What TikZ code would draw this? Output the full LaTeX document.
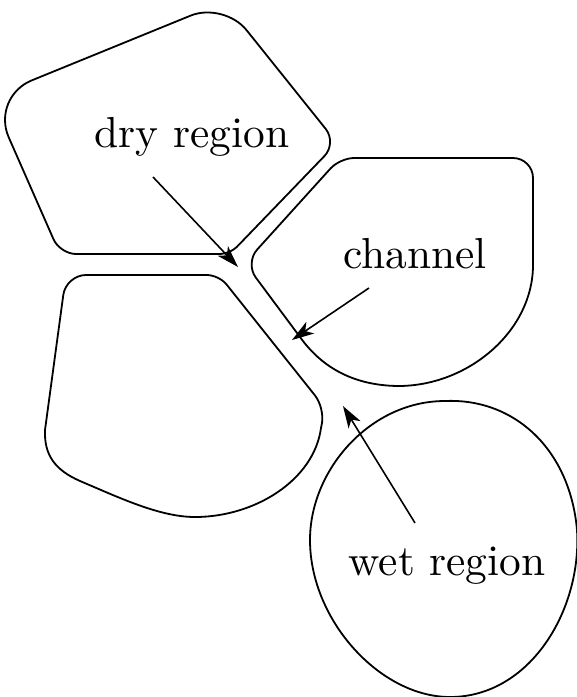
\documentclass[tikz,border=0pt]{standalone}
\usepackage{amsmath, amssymb}
\usepackage{graphicx}
\usepackage{tikz}
\usetikzlibrary{arrows.meta}

\newcommand{\bigtext}[1]{\scalebox{2.17}{#1}}

\tikzset{
	grain/.style={line width=0.9pt},
	regiontext/.style={font=\fontsize{10}{12}\selectfont, inner sep=0pt, anchor=base},
	pointer/.style={line width=0.8pt, -{Stealth[length=11pt, width=7pt, inset=3pt]}}
}

\begin{document}
\begin{tikzpicture}[x=0.5pt, y=-0.5pt]
	\useasboundingbox (0,0) rectangle (577,697);

	\draw[grain] (140,254) [rounded corners=8pt] -- (60,254) [rounded corners=22pt] -- (-9,97) [rounded corners=18pt] -- (224,2) [rounded corners=9pt] -- (337,143) [rounded corners=5pt] -- (230,254) [sharp corners] -- cycle;

	\draw[grain] (533,230) [rounded corners=10pt] -- (533,158) [rounded corners=7pt] -- (340,158) [rounded corners=9pt] -- (245,263) [sharp corners] -- (300,337) .. controls (325,372) and (360,386) .. (400,386) .. controls (470,385) and (533,330) .. (533,265) -- cycle;

	\draw[grain] (150,275) [rounded corners=6pt] -- (219,275) [rounded corners=8pt] -- (325,408) [sharp corners] -- (321,428) .. controls (314,480) and (255,517) .. (195,517) .. controls (160,517) and (120,498) .. (80,481) .. controls (55,470) and (44,455) .. (45,430) [rounded corners=10pt] -- (66,275) [sharp corners] -- cycle;

	\draw[grain] (445,401) .. controls (515,398) and (570,450) .. (577,530) .. controls (582,610) and (530,697) .. (450,697) .. controls (380,697) and (310,620) .. (310,540) .. controls (310,470) and (370,401) .. (445,401) -- cycle;

	\node(dry) [regiontext] at (192,147) {\bigtext{dry region}};
	\node(channel) [regiontext] at (415,268) {\bigtext{channel}};
	\node(wet) [regiontext] at (447,575) {\bigtext{wet region}};

	\coordinate(dryfrom) at (153,177);
	\coordinate(drytip) at (238,267);
	\coordinate(channelfrom) at (369,288);
	\coordinate(channeltip) at (292,340);
	\coordinate(wetfrom) at (415,523);
	\coordinate(wettip) at (343,406);

	\draw[pointer] (dryfrom) -- (drytip);
	\draw[pointer] (channelfrom) -- (channeltip);
	\draw[pointer] (wetfrom) -- (wettip);

\end{tikzpicture}
\end{document}
